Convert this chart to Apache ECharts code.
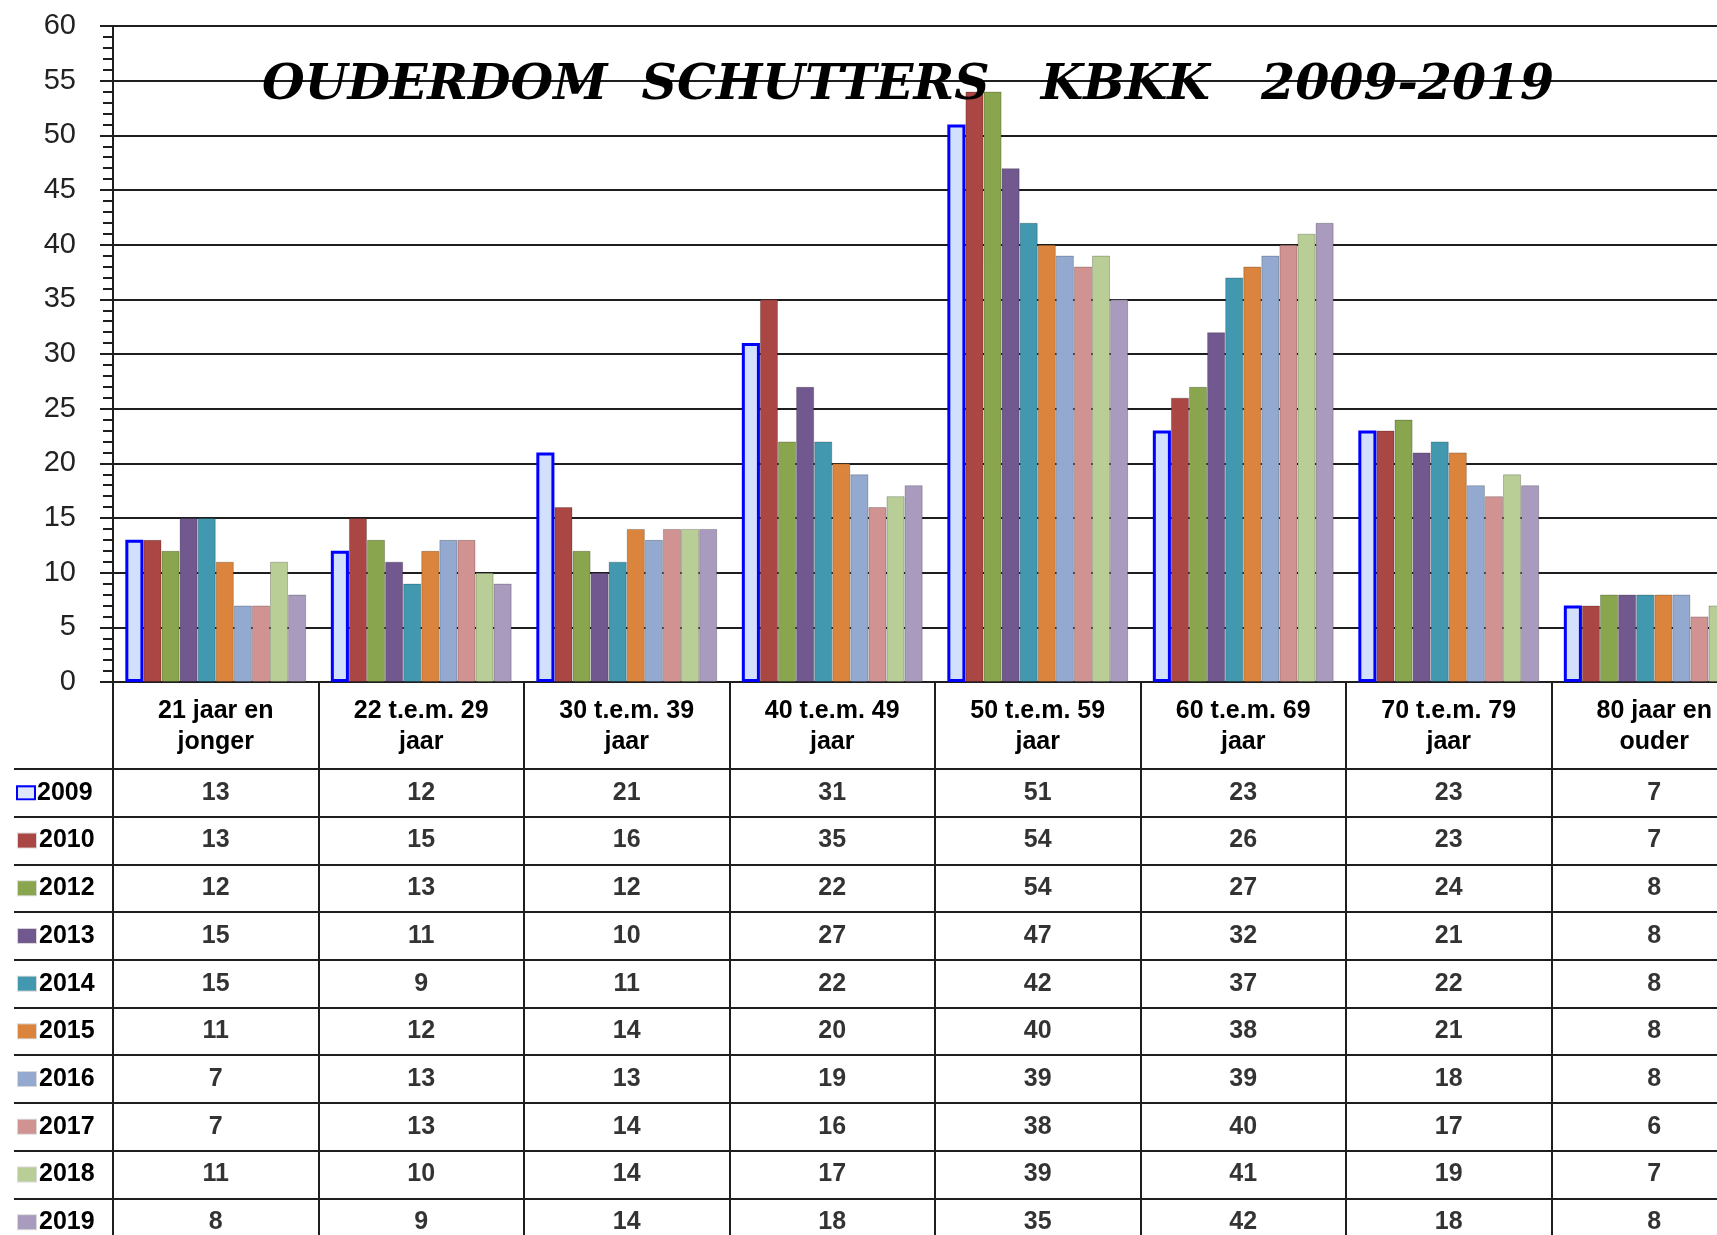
<!DOCTYPE html>
<html>
<head>
<meta charset="utf-8">
<title>Ouderdom schutters KBKK 2009-2019</title>
<script src="https://cdn.jsdelivr.net/npm/echarts@6/dist/echarts.min.js"></script>
<style>
  html, body { margin: 0; padding: 0; background: #fff; overflow: hidden; }
  #chart { width: 1780px; height: 1260px; }
</style>
</head>
<body>
<div id="chart"></div>
<script>
// leeftijdscategorieen
const categories = [
  '21 jaar en\njonger', '22 t.e.m. 29\njaar', '30 t.e.m. 39\njaar', '40 t.e.m. 49\njaar',
  '50 t.e.m. 59\njaar', '60 t.e.m. 69\njaar', '70 t.e.m. 79\njaar', '80 jaar en\nouder'
]
const years = ['2009', '2010', '2012', '2013', '2014', '2015', '2016', '2017', '2018', '2019']

// aantallen per jaar
const v2009 = [13, 12, 21, 31, 51, 23, 23, 7]
const v2010 = [13, 15, 16, 35, 54, 26, 23, 7]
const v2012 = [12, 13, 12, 22, 54, 27, 24, 8]
const v2013 = [15, 11, 10, 27, 47, 32, 21, 8]
const v2014 = [15, 9, 11, 22, 42, 37, 22, 8]
const v2015 = [11, 12, 14, 20, 40, 38, 21, 8]
const v2016 = [7, 13, 13, 19, 39, 39, 18, 8]
const v2017 = [7, 13, 14, 16, 38, 40, 17, 6]
const v2018 = [11, 10, 14, 17, 39, 41, 19, 7]
const v2019 = [8, 9, 14, 18, 35, 42, 18, 8]
const values = [v2009, v2010, v2012, v2013, v2014, v2015, v2016, v2017, v2018, v2019]

const colors = ['#d3e0fb', '#AA4643', '#89A54E', '#71588F', '#4198AF',
  '#DB843D', '#93A9CF', '#D19392', '#B9CD96', '#A99BBD']

const LINE = '#1e1e1e'
const FONT = '"Liberation Sans", Arial, sans-serif'

const chart = echarts.init(document.getElementById('chart'))

// staven
const barSeries = years.map((y, i) => ({
  name: y,
  type: 'bar',
  xAxisIndex: 0,
  yAxisIndex: 0,
  barGap: '0%',
  barCategoryGap: '12%',
  data: values[i],
  itemStyle: i === 0
    ? { color: colors[0], borderColor: '#0000ff', borderWidth: 3 }
    : { color: colors[i], borderColor: 'rgba(0,0,0,0.22)', borderWidth: 1 }
}))

// tabelcellen
const cells = []
values.forEach((row, j) => row.forEach((v, i) => cells.push([i, j, v])))

// legendesymbolen in de tabel
const rich = { t: { fontFamily: FONT, fontWeight: 'bold', fontSize: 25, color: '#000', padding: [0, 0, 0, 3] } }
colors.forEach((c, i) => {
  rich['k' + i] = i === 0
    ? { width: 16, height: 11, backgroundColor: '#dfe7fb', borderColor: '#0000ff', borderWidth: 2 }
    : { width: 18, height: 14, backgroundColor: c, borderColor: 'rgba(0,0,0,0.15)', borderWidth: 1 }
})

const option = {
  animation: false,
  backgroundColor: '#fff',
  title: {
    text: 'OUDERDOM  SCHUTTERS   KBKK   2009-2019',
    left: 257,
    top: 57,
    textStyle: {
      fontFamily: '"DejaVu Serif", "Liberation Serif", serif',
      fontStyle: 'italic',
      fontWeight: 'bold',
      fontSize: 49,
      color: '#000',
      textShadowColor: 'rgba(0,0,0,0.4)',
      textShadowOffsetX: 2,
      textShadowOffsetY: 2
    }
  },
  grid: [
    { left: 113, top: 26, width: 1644, height: 656 },
    { left: 113, top: 769, width: 1644, height: 477 }
  ],
  xAxis: [
    {
      type: 'category',
      gridIndex: 0,
      data: categories,
      axisLine: { lineStyle: { color: LINE, width: 2 } },
      axisTick: { show: true, length: 87, lineStyle: { color: LINE, width: 2 } },
      axisLabel: {
        interval: 0,
        margin: 14,
        fontFamily: FONT,
        fontWeight: 'bold',
        fontSize: 25,
        lineHeight: 31,
        color: '#000'
      },
      splitLine: { show: false }
    },
    {
      type: 'category',
      gridIndex: 1,
      position: 'top',
      data: categories,
      axisLine: { show: true, lineStyle: { color: LINE, width: 2 } },
      axisTick: { show: false },
      axisLabel: { show: false },
      splitLine: { show: true, lineStyle: { color: LINE, width: 2 } }
    }
  ],
  yAxis: [
    {
      type: 'value',
      gridIndex: 0,
      min: 0,
      max: 60,
      interval: 5,
      axisLine: { show: true, lineStyle: { color: LINE, width: 2 } },
      axisTick: { show: true, length: 13, lineStyle: { color: LINE, width: 2 } },
      minorTick: { show: true, splitNumber: 5, length: 10, lineStyle: { color: LINE, width: 2 } },
      axisLabel: { margin: 37, fontFamily: FONT, fontSize: 29, color: '#222' },
      splitLine: { show: true, lineStyle: { color: LINE, width: 2 } }
    },
    {
      type: 'category',
      gridIndex: 1,
      inverse: true,
      data: years,
      axisLine: { show: true, lineStyle: { color: LINE, width: 2 } },
      axisTick: { show: true, length: 99, lineStyle: { color: LINE, width: 2 } },
      axisLabel: {
        align: 'left',
        margin: 95,
        formatter: (v, i) => '{k' + i + '|}{t|' + v + '}',
        rich: rich
      },
      splitLine: { show: true, lineStyle: { color: LINE, width: 2 } }
    }
  ],
  series: [
    ...barSeries,
    {
      type: 'scatter',
      xAxisIndex: 1,
      yAxisIndex: 1,
      symbolSize: 0,
      data: cells,
      label: {
        show: true,
        position: 'inside',
        formatter: p => String(p.value[2]),
        fontFamily: FONT,
        fontWeight: 'bold',
        fontSize: 25,
        color: '#000'
      }
    }
  ]
}

chart.setOption(option)
</script>
</body>
</html>
